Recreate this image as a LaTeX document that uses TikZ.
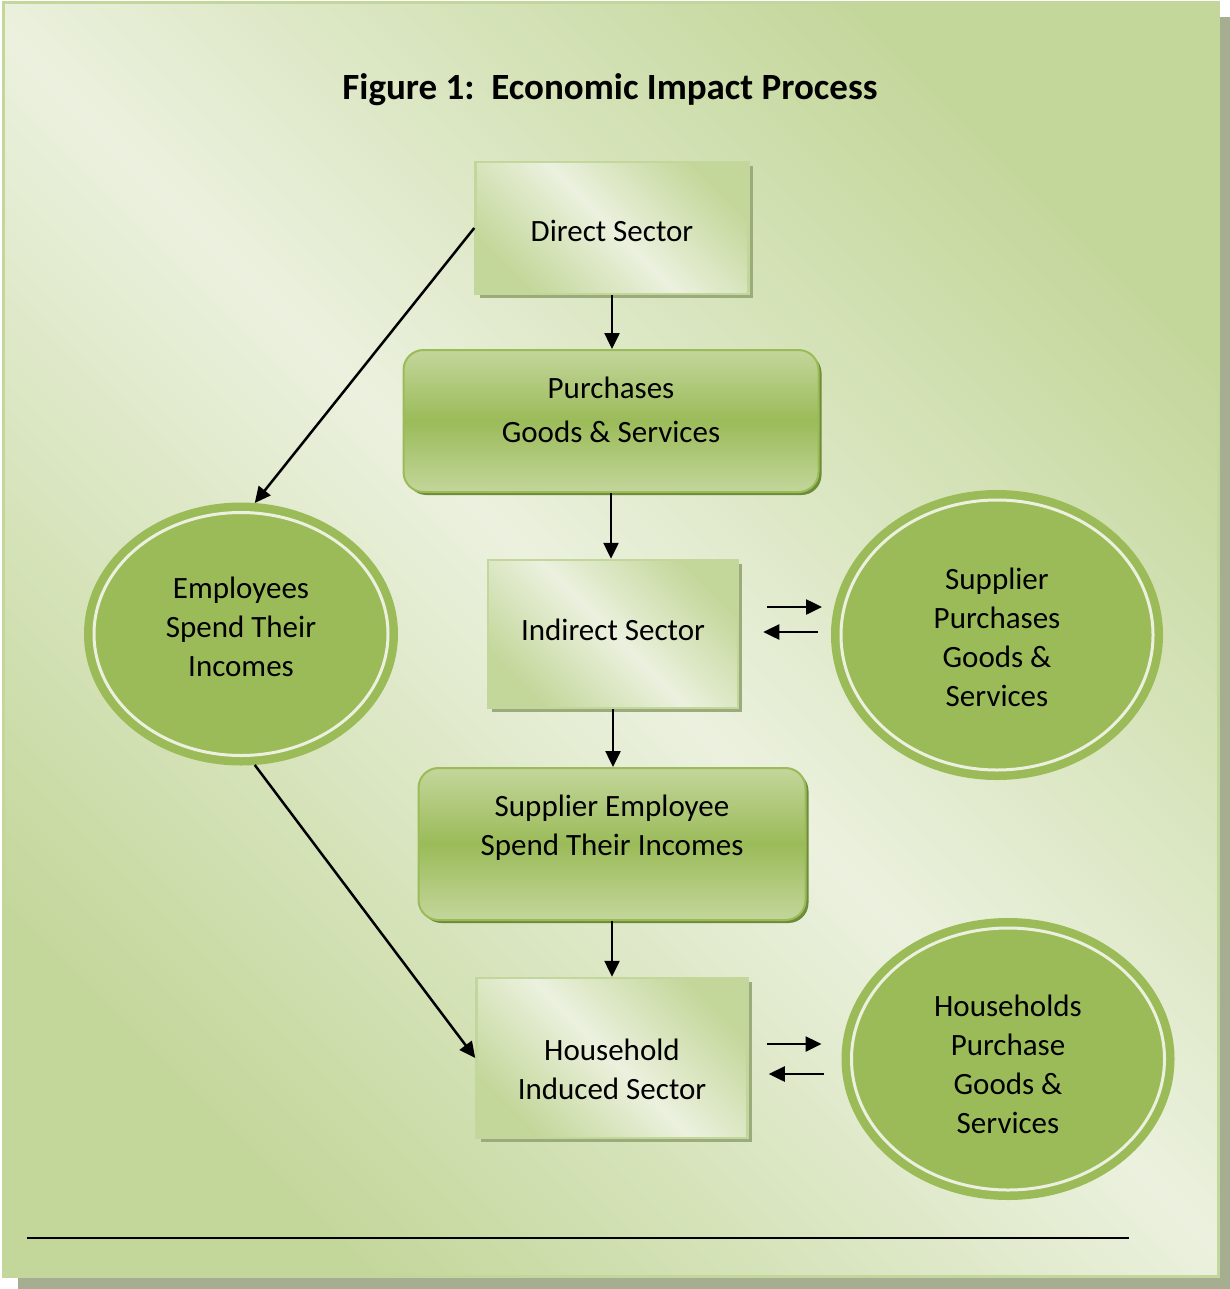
\documentclass[tikz,border=0pt]{standalone}
\usepackage{fontspec}
\setmainfont{Carlito}
\usetikzlibrary{arrows.meta,shapes.geometric,shadows}

\definecolor{bglight}{HTML}{EBF1DE}
\definecolor{bgdark}{HTML}{C4D79B}
\definecolor{frameedge}{HTML}{C3D69B}
\definecolor{framesh}{HTML}{A5AE91}
\definecolor{boxshadow}{HTML}{9CAB7C}
\definecolor{ringgreen}{HTML}{9BBB59}
\definecolor{greenlight}{HTML}{C3D69B}
\definecolor{greenshadow}{HTML}{6E8B3A}

\newcommand{\bodyfont}{\fontsize{31}{39}\selectfont}

\begin{document}
\begin{tikzpicture}[x=1pt,y=-1pt,
    >={Triangle[length=16pt,width=15pt]},
    flow/.style={black, line width=2.5pt, ->},
    sectorbox/.style={rectangle, draw=frameedge, line width=2.5pt,
        top color=bgdark, bottom color=bgdark, middle color=bglight, shading angle=-45,
        drop shadow={shadow xshift=4pt, shadow yshift=-4pt, fill=boxshadow, opacity=1},
        align=center, inner sep=0pt, font=\bodyfont},
    greenbox/.style={rectangle, rounded corners=20pt, draw=ringgreen, line width=2pt,
        top color=greenlight, bottom color=greenlight, middle color=ringgreen,
        drop shadow={shadow xshift=3pt, shadow yshift=-3pt, fill=greenshadow, opacity=1},
        align=center, inner sep=0pt, font=\bodyfont},
    ring/.style={ellipse, fill=ringgreen, draw=ringgreen, line width=8.5pt,
        double=bglight, double distance=3pt, outer sep=10pt,
        align=center, inner sep=0pt, font=\bodyfont}]

    % frame and page
    \fill[white] (0,0) rectangle (1230,1289);
    \useasboundingbox (0,0) rectangle (1230,1289);
    \fill[framesh] (18,17) rectangle (1230,1289);
    \draw[draw=frameedge, line width=3pt, top color=bgdark, bottom color=bgdark,
        middle color=bglight, shading angle=-45] (3,3) rectangle (1218,1276);

    \node[font=\fontsize{37}{44}\selectfont\bfseries, anchor=base] (title) at (610,100)
        {Figure 1:\ \ Economic Impact Process};

    % middle column
    \node[sectorbox, minimum width=273pt, minimum height=132pt, text height=28pt, text depth=0pt]
        (dir) at (612,228) {Direct Sector};
    \node[greenbox, minimum width=415pt, minimum height=142pt, text height=42pt, text depth=0pt]
        (pur) at (611,421) {Purchases\\[5pt]Goods \& Services};
    \node[sectorbox, minimum width=250pt, minimum height=148pt, text height=12pt, text depth=0pt]
        (ind) at (613,634) {Indirect Sector};
    \node[greenbox, minimum width=387pt, minimum height=152pt, text height=22pt, text depth=0pt]
        (sem) at (612,844) {Supplier Employee\\Spend Their Incomes};
    \node[sectorbox, minimum width=271pt, minimum height=160pt, text height=82pt, text depth=0pt]
        (hh) at (612,1058) {Household\\Induced Sector};

    % side ellipses
    \node[ring, minimum width=294pt, minimum height=243pt, text height=84pt, text depth=0pt]
        (emp) at (241,634) {Employees\\Spend Their\\Incomes};
    \node[ring, minimum width=312pt, minimum height=270pt, text height=142pt, text depth=0pt]
        (sup) at (997,635) {Supplier\\Purchases\\Goods \&\\Services};
    \node[ring, minimum width=313pt, minimum height=262pt, text height=148pt, text depth=0pt]
        (hhp) at (1008,1059) {Households\\Purchase\\Goods \&\\Services};

    % arrows
    \draw[flow] (dir.south) -- (dir.south |- pur.north);
    \draw[flow] (pur.south) -- (pur.south |- ind.north);
    \draw[flow] (ind.south) -- (ind.south |- sem.north);
    \draw[flow] (sem.south) -- (sem.south |- hh.north);
    \draw[flow] (dir.west) -- (emp.84);
    \draw[flow] (emp.-84) -- (hh.west);

    \draw[flow, shorten <=28pt, shorten >=9pt] ([yshift=27pt]ind.east) -- ([yshift=27pt]ind.east -| sup.west);
    \draw[flow, shorten <=13pt, shorten >=24pt] ([yshift=2pt]ind.east -| sup.west) -- ([yshift=2pt]ind.east);
    \draw[flow, shorten <=18pt, shorten >=20pt] ([yshift=14pt]hh.east) -- ([yshift=14pt]hh.east -| hhp.west);
    \draw[flow, shorten <=18pt, shorten >=20pt] ([yshift=-16pt]hh.east -| hhp.west) -- ([yshift=-16pt]hh.east);

    \draw[line width=2.5pt] (27,1238) -- (1129,1238);
\end{tikzpicture}
\end{document}
